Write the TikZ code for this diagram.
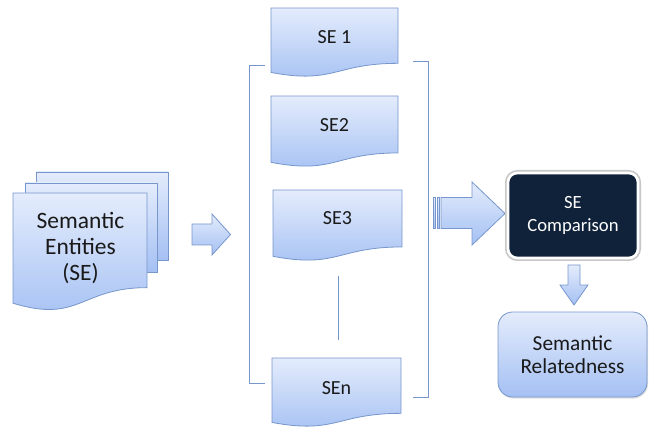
\documentclass[tikz,border=0pt]{standalone}
\usepackage{fontspec}
\setmainfont{Carlito}
\usetikzlibrary{shadows}

\definecolor{seline}{RGB}{118,150,204}
\definecolor{setop}{RGB}{228,236,252}
\definecolor{sebot}{RGB}{164,192,243}
\definecolor{senavy}{RGB}{16,33,58}
\definecolor{setext}{RGB}{25,25,25}

% document shape with a wavy bottom: left, top, width, height
\newcommand{\sedoc}[4]{%
  \draw[sebox] (#1,#2) -- ({#1+#3},#2) -- ({#1+#3},{#2+0.802*#4})
    .. controls ({#1+0.5*#3},{#2+0.802*#4}) and ({#1+0.5*#3},{#2+1.1075*#4}) .. (#1,{#2+0.934*#4}) -- cycle;}

\begin{document}
\begin{tikzpicture}[x=0.75pt,y=0.75pt,yscale=-1,
  sebox/.style={draw=seline, line width=0.6pt, top color=setop, bottom color=sebot},
  setxt/.style={inner sep=0pt, text=setext, font=\fontsize{15}{17}\selectfont},
  seline/.style={draw=seline, line width=0.7pt}]
\path[use as bounding box] (0,0) rectangle (652,427);

%Stacked documents
\draw[sebox] (36,172) rectangle (168,260);
\draw[sebox] (25,183) rectangle (157,272);
\sedoc{13}{193}{134}{118}
\node[setxt, align=center, font=\fontsize{17.6}{19.5}\selectfont] (entities) at (80.5,248) {Semantic\\Entities\\(SE)};

%Arrow into the list
\draw[sebox] (192,224) -- (212,224) -- (212,214) -- (230.5,234.5) -- (212,255) -- (212,245) -- (192,245) -- cycle;

%List of entities
\sedoc{271}{8}{127}{69}
\node[setxt] (se1) at (334.5,37) {SE 1};
\sedoc{271}{96}{127}{71}
\node[setxt] (se2) at (334.5,125) {SE2};
\sedoc{273}{190}{129}{71}
\node[setxt] (se3) at (337.5,218) {SE3};
\sedoc{272}{358}{129}{69}
\node[setxt] (sen) at (336.5,388) {SEn};

%Dots between SE3 and SEn
\coordinate (gapa) at (338,276);
\coordinate (gapb) at (338,340);
\draw[seline, line width=0.6pt] (gapa) -- (gapb);

%Brackets
\draw[seline] (265,65) -- (249,65) -- (249,383) -- (265,383);
\draw[seline] (413,61) -- (428,61) -- (428,397) -- (413,397);

%Striped arrow
\draw[sebox] (433,197.5) rectangle (435.5,228.5);
\draw[sebox] (437,197.5) rectangle (439.5,228.5);
\draw[sebox] (441,197.5) -- (472,197.5) -- (472,182) -- (505,213.5) -- (472,245) -- (472,228.5) -- (441,228.5) -- cycle;

%Comparison
\node[draw=white, line width=2pt, fill=senavy, rounded corners=7pt,
  preaction={draw=black!22, line width=4.5pt},
  minimum width=97.5pt, minimum height=63.75pt, text=white, align=center,
  font=\fontsize{14}{17.2}\selectfont] (cmp) at (573,215.5) {SE\\Comparison};

%Down arrow
\draw[sebox] (568,265) -- (580,265) -- (580,285) -- (588,285) -- (574,305) -- (560,285) -- (568,285) -- cycle;

%Result
\node[sebox, rounded corners=11pt, minimum width=111.75pt, minimum height=63.75pt,
  drop shadow={opacity=0.25, shadow xshift=0.8pt, shadow yshift=-1.2pt},
  text=setext, align=center, font=\fontsize{16}{17.3}\selectfont] (rel) at (572.5,354.5) {Semantic\\Relatedness};

\end{tikzpicture}
\end{document}
